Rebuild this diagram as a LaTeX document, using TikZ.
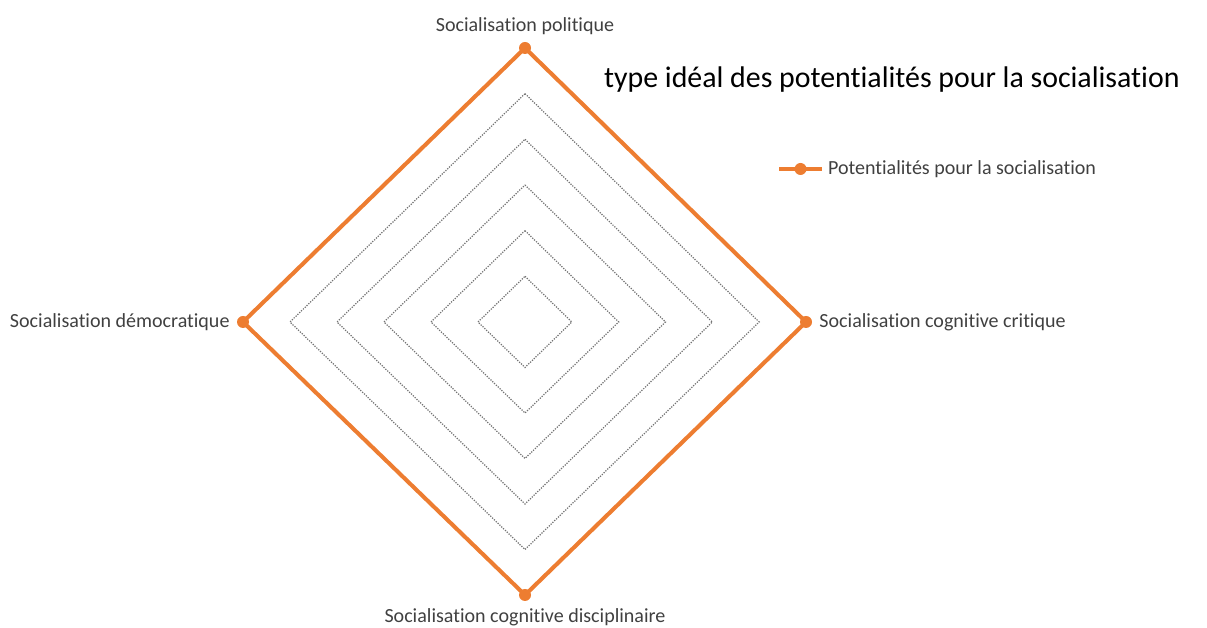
\documentclass[tikz,border=0pt]{standalone}
\usepackage{fontspec}
\setmainfont{Carlito}[Ligatures=NoCommon]
\usetikzlibrary{positioning,calc}
\definecolor{serie}{HTML}{ED7D31}
\definecolor{labelgray}{HTML}{404040}
\tikzstyle{grid} = [draw, black!55, dash pattern=on 0.7pt off 0.75pt, line width=0.7pt]
\tikzstyle{serieline} = [draw, serie, line width=2.3pt, line join=miter]
\tikzstyle{dot} = [circle, fill=serie, inner sep=0pt, minimum size=0.24cm]
\tikzstyle{axislabel} = [text=labelgray, font=\fontsize{11.4}{13}\selectfont, inner sep=1pt]

\begin{document}
\begin{tikzpicture}[x=0.02cm, y=0.02cm, node distance=0.1cm]
        \useasboundingbox (0,0) rectangle (1207,628);
        \coordinate (c) at (525,306);
        \node[dot] (pol) at (525,580) {};
        \node[dot] (crit) at (806,306) {};
        \node[dot] (disc) at (525,33) {};
        \node[dot] (demo) at (243,306) {};
        % dotted grid
        \foreach \k in {1,...,5}
            \path[grid] ($(c)!\k/6!(pol)$) -- ($(c)!\k/6!(crit)$) -- ($(c)!\k/6!(disc)$) -- ($(c)!\k/6!(demo)$) -- cycle;
        \path[serieline] (pol.center) -- (crit.center) -- (disc.center) -- (demo.center) -- cycle;
        \node[axislabel, above=of pol] (lpol) {Socialisation politique};
        \node[axislabel, right=of crit] (lcrit) {Socialisation cognitive critique};
        \node[axislabel, below=of disc] (ldisc) {Socialisation cognitive disciplinaire};
        \node[axislabel, left=of demo] (ldemo) {Socialisation démocratique};
        \node[anchor=west, font=\fontsize{17}{20}\selectfont, inner sep=1pt] (title) at (602,548) {type idéal des potentialités pour la socialisation};
        % legend
        \coordinate (la) at (779,459);
        \coordinate (lb) at (822,459);
        \node[dot] (ldot) at ($(la)!0.5!(lb)$) {};
        \path[serieline, line cap=butt] (la) -- (lb);
        \node[axislabel, anchor=west] (lserie) at (826,459) {Potentialités pour la socialisation};
    \end{tikzpicture}
\end{document}
